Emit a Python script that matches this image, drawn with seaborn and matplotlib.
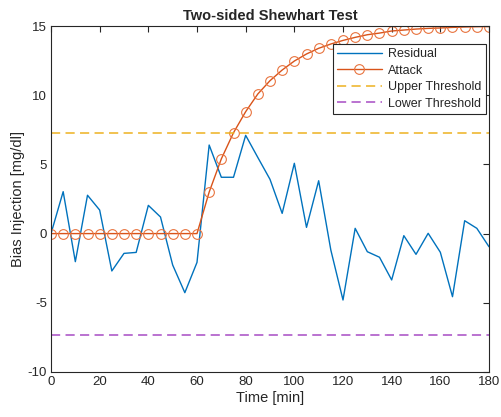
import numpy as np
import pandas as pd
import matplotlib
matplotlib.use("Agg")
import matplotlib.pyplot as plt
import seaborn as sns

# time axis, one sample every 5 minutes
time_min = list(range(0, 185, 5))

residual = [0.0, 3.03, -2.03, 2.77, 1.70, -2.70, -1.43, -1.36, 2.04, 1.20,
            -2.27, -4.27, -2.08, 6.40, 4.07, 4.07, 7.10, 5.5, 3.92, 1.46,
            5.08, 0.45, 3.82, -1.19, -4.80, 0.38, -1.31, -1.71, -3.35, -0.15,
            -1.50, 0.02, -1.35, -4.56, 0.93, 0.38, -0.95]

attack = [0, 0, 0, 0, 0, 0, 0, 0, 0, 0, 0, 0, 0, 3.0, 5.4, 7.29, 8.81,
          10.09, 11.05, 11.82, 12.47, 12.98, 13.39, 13.70, 13.96, 14.18,
          14.37, 14.49, 14.64, 14.71, 14.78, 14.83, 14.86, 14.90, 14.93,
          14.95, 14.96]

upper_thr = 7.3
lower_thr = -7.3

df = pd.DataFrame({"time": time_min, "residual": residual, "attack": attack})

sns.set_theme(style="white")
plt.rcParams["font.family"] = ["Liberation Sans", "DejaVu Sans"]
plt.rcParams["axes.unicode_minus"] = False

fig = plt.figure(figsize=(5.02, 4.17), dpi=100)
ax = fig.add_axes([0.1016, 0.108, 0.8725, 0.8296])

sns.lineplot(data=df, x="time", y="residual", ax=ax, color="#0072BD",
             linewidth=1.0, label="Residual")
sns.lineplot(data=df, x="time", y="attack", ax=ax, color="#D95319",
             linewidth=1.0, marker="o", markersize=7, markerfacecolor="none",
             markeredgecolor="#E8743F", markeredgewidth=0.8, label="Attack")
ax.axhline(upper_thr, color="#EDB120", linewidth=1.1, dashes=(6, 3.5),
           label="Upper Threshold")
ax.axhline(lower_thr, color="#A74CC4", linewidth=1.1, dashes=(6, 3.5),
           label="Lower Threshold")

ax.set_xlim(0, 180)
ax.set_ylim(-10, 15)
ax.set_xticks(range(0, 181, 20))
ax.set_yticks(range(-10, 16, 5))
ax.tick_params(direction="in", length=4, width=0.8, labelsize=9.5,
               top=True, right=True, colors="#262626", pad=3)
for s in ax.spines.values():
    s.set_color("#262626")
    s.set_linewidth(0.8)

ax.set_xlabel("Time [min]", fontsize=10.5, color="#262626", labelpad=2)
ax.set_ylabel("Bias Injection [mg/dl]", fontsize=10.5, color="#262626", labelpad=2)
ax.set_title("Two-sided Shewhart Test", fontsize=10.5, fontweight="bold", pad=4)

leg = ax.legend(loc="upper right", bbox_to_anchor=(0.993, 0.948),
                borderaxespad=0, fontsize=9, frameon=True, fancybox=False,
                edgecolor="#262626", framealpha=1, handlelength=3.6,
                labelspacing=0.35, borderpad=0.35, handletextpad=0.5)
leg.get_frame().set_linewidth(0.8)
leg.set_zorder(10)

fig.savefig("out.png", dpi=100)
